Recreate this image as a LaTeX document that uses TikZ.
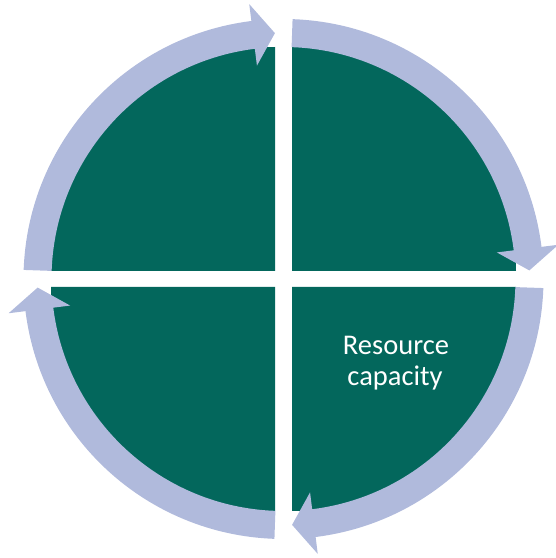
\documentclass[tikz,border=0pt]{standalone}
\usepackage{fontspec}
\setmainfont{Carlito}
\definecolor{tealq}{RGB}{3,103,92}
\definecolor{ringc}{RGB}{176,186,220}
\tikzset{
  quad/.style={fill=tealq},
  ring/.style={fill=ringc},
  lbl/.style={text=white,inner sep=0pt,anchor=base,font=\fontsize{28.5}{31}\selectfont}
}
\begin{document}
\begin{tikzpicture}[x=1pt,y=1pt]
\useasboundingbox (0,0) rectangle (556,558);
\clip (0,0) rectangle (556,558);
% quadrants
\fill[quad] (275,287) -- (51,287) arc[start angle=180,end angle=90,radius=224] -- cycle;
\fill[quad] (292,287) -- (292,511) arc[start angle=90,end angle=0,radius=224] -- cycle;
\fill[quad] (292,271) -- (516,271) arc[start angle=0,end angle=-90,radius=224] -- cycle;
\fill[quad] (275,271) -- (275,47) arc[start angle=-90,end angle=-180,radius=224] -- cycle;
% arrows
\foreach \k in {0,1,2,3}{
  \pgfmathsetmacro{\s}{178-90*\k}
  \pgfmathsetmacro{\t}{92-90*\k}
  \pgfmathsetmacro{\b}{97.1-90*\k}
  \fill[ring,shift={(283.5,279)}] (\s:232) arc[start angle=\s,end angle=\b,radius=232]
     -- (\b:215) -- (\t:246) -- (\b:277) -- (\b:260)
     arc[start angle=\b,end angle=\s,radius=260] -- cycle;
}
\node[lbl] (l1) at (396,203) {Resource};
\node[lbl] (l2) at (395,172) {capacity};
\end{tikzpicture}
\end{document}
